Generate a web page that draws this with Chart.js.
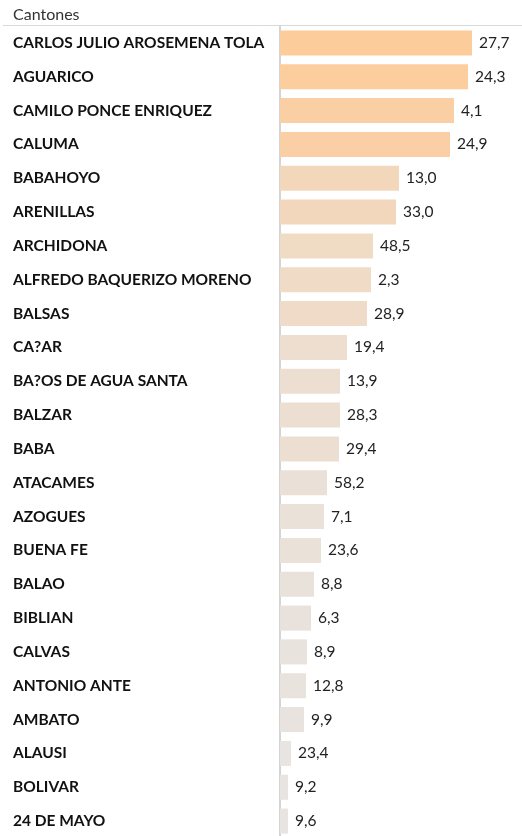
<!DOCTYPE html>
<html>
<head>
<meta charset="utf-8">
<script src="https://cdn.jsdelivr.net/npm/chart.js@4"></script>
<style>
  html, body { margin: 0; padding: 0; background: #fff; }
  #wrap { position: relative; width: 522px; height: 836px; overflow: hidden; }
</style>
</head>
<body>
<div id="wrap"><canvas id="cantonesChart" width="522" height="838"></canvas></div>
<script>
"use strict";

/* data */
var cantones = [
    'CARLOS JULIO AROSEMENA TOLA', 'AGUARICO', 'CAMILO PONCE ENRIQUEZ', 'CALUMA',
    'BABAHOYO', 'ARENILLAS', 'ARCHIDONA', 'ALFREDO BAQUERIZO MORENO', 'BALSAS',
    'CA?AR', 'BA?OS DE AGUA SANTA', 'BALZAR', 'BABA', 'ATACAMES', 'AZOGUES',
    'BUENA FE', 'BALAO', 'BIBLIAN', 'CALVAS', 'ANTONIO ANTE', 'AMBATO', 'ALAUSI',
    'BOLIVAR', '24 DE MAYO'
];
// bar length measure (sorts the bars)
var barValues = [192, 188, 174, 170, 119, 116, 93, 91, 87, 67, 60, 60, 59, 47, 44, 41, 34, 31, 27, 26, 24, 11, 8, 8];
// value shown at the end of each bar
var labelValues = [27.7, 24.3, 4.1, 24.9, 13.0, 33.0, 48.5, 2.3, 28.9, 19.4, 13.9, 28.3, 29.4, 58.2, 7.1, 23.6, 8.8, 6.3, 8.9, 12.8, 9.9, 23.4, 9.2, 9.6];

var FONT = 'Lato, "Open Sans", sans-serif';

/* colour ramp grey -> orange by bar length */
function barColor(v) {
    var maxV = Math.max.apply(null, barValues);
    var t = Math.pow(v / maxV, 1.2);
    var lo = [230, 229, 228], hi = [253, 204, 155];
    var c = lo.map(function (l, i) { return Math.round(l + (hi[i] - l) * t); });
    return 'rgb(' + c.join(',') + ')';
}

var headerPlugin = {
    id: 'header',
    afterDraw: function (chart) {
        var ctx = chart.ctx;
        ctx.save();
        ctx.fillStyle = '#333333';
        ctx.font = '16px ' + FONT;
        ctx.textBaseline = 'alphabetic';
        ctx.textAlign = 'left';
        ctx.fillText('Cantones', 13, 20);
        ctx.strokeStyle = '#d9d9d9';
        ctx.lineWidth = 1;
        ctx.beginPath();
        ctx.moveTo(3, 25.5);
        ctx.lineTo(522, 25.5);
        ctx.stroke();
        ctx.restore();
    }
};

var valueLabels = {
    id: 'valueLabels',
    afterDatasetsDraw: function (chart) {
        var ctx = chart.ctx;
        var meta = chart.getDatasetMeta(0);
        ctx.save();
        ctx.fillStyle = '#222222';
        ctx.font = '15.5px ' + FONT;
        ctx.textBaseline = 'middle';
        ctx.textAlign = 'left';
        meta.data.forEach(function (bar, i) {
            ctx.fillText(labelValues[i].toFixed(1).replace('.', ','), bar.x + 7, bar.y);
        });
        ctx.restore();
    }
};

var ctx = document.getElementById('cantonesChart').getContext('2d');
var cantonesChart = new Chart(ctx, {
    type: 'bar',
    data: {
        labels: cantones,
        datasets: [{
            data: barValues,
            backgroundColor: barValues.map(barColor),
            borderWidth: 0,
            barPercentage: 0.74,
            categoryPercentage: 1
        }]
    },
    options: {
        indexAxis: 'y',
        responsive: false,
        animation: false,
        maintainAspectRatio: false,
        layout: { padding: { top: 26, left: 13, right: 0, bottom: 0 } },
        plugins: {
            legend: { display: false },
            tooltip: { enabled: false }
        },
        scales: {
            x: {
                display: false,
                min: 0,
                max: 242
            },
            y: {
                afterFit: function (scale) {
                    scale.width = 267;
                    scale.paddingTop = 0;
                    scale.paddingBottom = 0;
                },
                grid: { display: false },
                border: { display: true, color: '#d4d4d4', width: 2 },
                ticks: {
                    crossAlign: 'far',
                    color: '#111111',
                    padding: 0,
                    font: { family: FONT, size: 15.5, weight: 'bold' }
                }
            }
        }
    },
    plugins: [headerPlugin, valueLabels]
});
</script>
</body>
</html>
